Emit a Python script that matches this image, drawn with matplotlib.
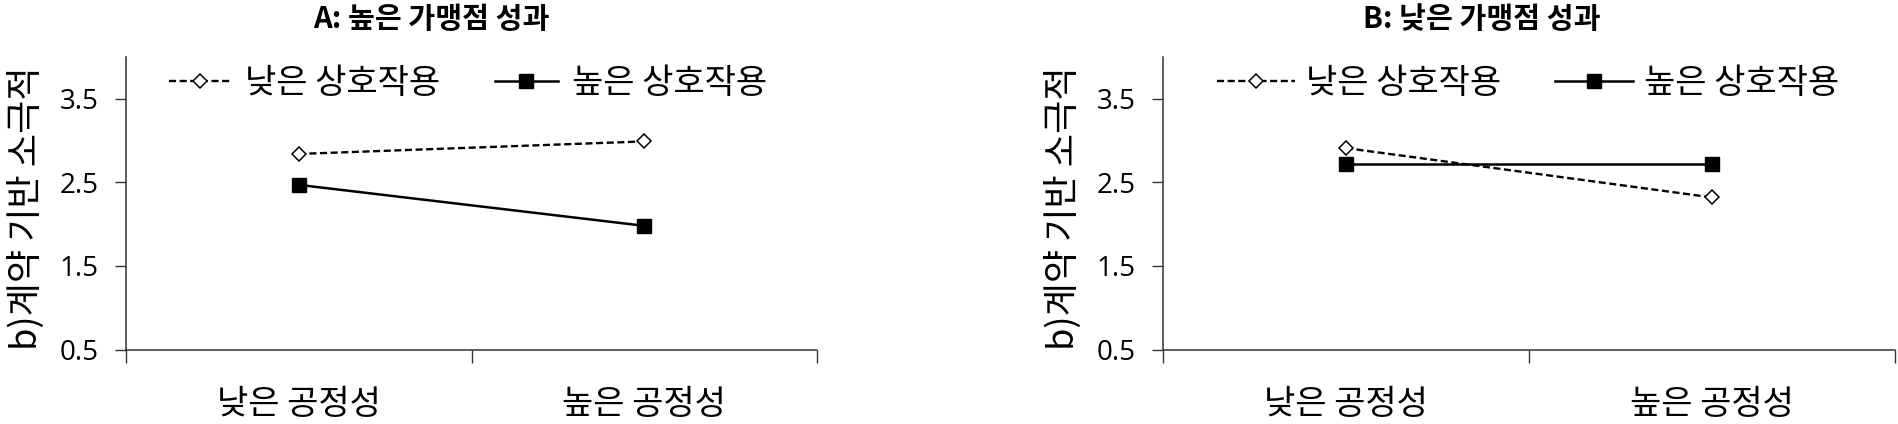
import matplotlib
matplotlib.use("Agg")
import matplotlib.pyplot as plt

plt.rcParams["font.family"] = ["Noto Sans CJK KR", "DejaVu Sans"]

# ── data ──────────────────────────────────────────────────────────────────────
categories = ["낮은 공정성", "높은 공정성"]
series_names = ["낮은 상호작용", "높은 상호작용"]
panel_titles = ["A: 높은 가맹점 성과", "B: 낮은 가맹점 성과"]
y_label = "b)계약 기반 소극적"
y_ticks = [0.5, 1.5, 2.5, 3.5]

a_low = [2.84, 2.99]    # panel A, 낮은 상호작용
a_high = [2.47, 1.98]   # panel A, 높은 상호작용
b_low = [2.91, 2.32]    # panel B, 낮은 상호작용
b_high = [2.72, 2.72]   # panel B, 높은 상호작용

W, H = 1899, 424
fig = plt.figure(figsize=(W / 100, H / 100), dpi=100)

panels = [
    dict(rect=[126 / W, 74.5 / H, 691 / W, 292.5 / H], low=a_low, high=a_high,
         title=panel_titles[0], title_x=431 / W, ylab_x=26 / W,
         leg_x=0.062, hl=1.85, colsp=1.6, htp=0.4),
    dict(rect=[1163 / W, 74.5 / H, 732 / W, 292.5 / H], low=b_low, high=b_high,
         title=panel_titles[1], title_x=1482 / W, ylab_x=1063 / W,
         leg_x=0.074, hl=2.3, colsp=1.6, htp=0.3),
]

x = list(range(len(categories)))

for p in panels:
    ax = fig.add_axes(p["rect"])
    ax.plot(x, p["low"], color="black", linestyle=(0, (3, 1.5)), linewidth=1.7,
            marker="D", markersize=7.5, markerfacecolor="white",
            markeredgecolor="black", markeredgewidth=1.1, label=series_names[0],
            zorder=3)
    ax.plot(x, p["high"], color="black", linestyle="-", linewidth=1.8,
            marker="s", markersize=10, markerfacecolor="black",
            markeredgecolor="black", label=series_names[1], zorder=3)

    ax.set_xlim(-0.5, len(categories) - 0.5)
    ax.set_ylim(0.5, 4.0)
    ax.set_yticks(y_ticks)
    ax.set_yticklabels([f"{v:.1f}" for v in y_ticks],
                       family=["Open Sans", "DejaVu Sans"], fontsize=20)
    ax.set_xticks([-0.5, 0.5, 1.5])
    ax.set_xticklabels([])
    ax.set_xticks(x, minor=True)
    ax.set_xticklabels(categories, minor=True, fontsize=24.5)
    ax.tick_params(axis="x", which="major", length=9.5, width=1.0,
                   direction="out", color="#333333")
    ax.tick_params(axis="x", which="minor", length=0, pad=27)
    ax.tick_params(axis="y", length=8, width=1.0, direction="out",
                   color="#333333", pad=12)

    for side in ("top", "right"):
        ax.spines[side].set_visible(False)
    for side in ("left", "bottom"):
        ax.spines[side].set_linewidth(1.1)
        ax.spines[side].set_color("#333333")

    ax.legend(loc="center left", bbox_to_anchor=(p["leg_x"], 0.911),
              ncol=2, frameon=False, fontsize=24.5, borderpad=0,
              handlelength=p["hl"], handletextpad=p["htp"],
              columnspacing=p["colsp"], borderaxespad=0)

    fig.text(p["title_x"], 0.955, p["title"], ha="center", va="center",
             fontsize=21, fontweight="bold")
    fig.text(p["ylab_x"], 1 - 208 / H, y_label, rotation=90,
             ha="center", va="center", fontsize=26)

fig.savefig("out.png", dpi=100)
